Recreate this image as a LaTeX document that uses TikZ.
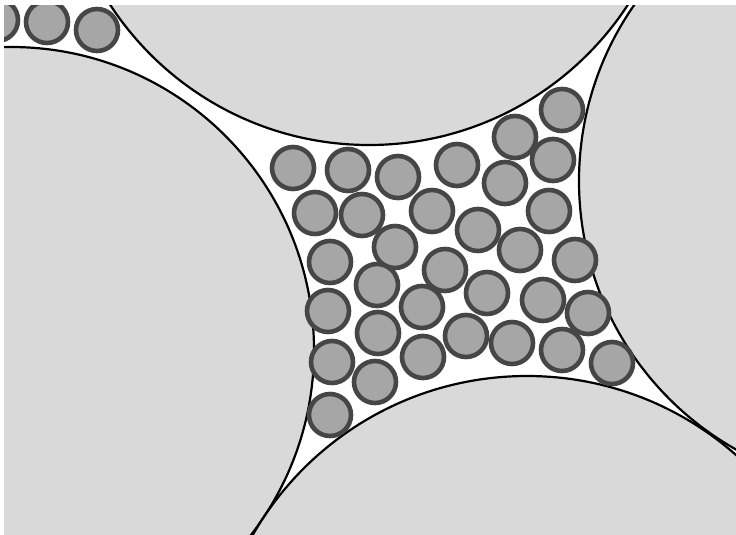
\documentclass[tikz,border=0pt]{standalone}
\usepackage{tikz}
\definecolor{graingray}{HTML}{D9D9D9}
\definecolor{finegray}{HTML}{A6A6A6}
\definecolor{fineedge}{HTML}{464646}

\begin{document}
\begin{tikzpicture}[x=1pt,y=-1pt,
		grain/.style={fill=graingray, draw=black, line width=2.2pt},
		fine/.style={fill=finegray, draw=fineedge, line width=4.6pt}]
				% Frame
				\useasboundingbox (0,0) rectangle (736,535);
				\fill[white] (0,0) rectangle (736,535);
				\clip (4,6) rectangle (736,535);
				% Large grains
				\foreach \cx/\cy/\r in {369/-164/309, 887/181/308, 11/350/303, 527/692/316}
					\draw[grain] (\cx,\cy) circle[radius=\r];
				% Fine particles in the pores
				\foreach \cx/\cy in {293/168, 348/170, 398/177, 457/165, 515/137, 562/110, 553/160, 505/183,
						315/213, 362/215, 432/211, 549/211, 478/230, 395/247, 330/262, 520/250, 575/260,
						445/270, 377/285, 487/293, 328/311, 422/307, 543/300, 588/313,
						378/333, 466/336, 512/343, 332/362, 423/357, 562/350, 612/363,
						375/382, 330/415,
						-3/20, 47/22, 97/30}
					\draw[fine] (\cx,\cy) circle[radius=21];
			\end{tikzpicture}
\end{document}
